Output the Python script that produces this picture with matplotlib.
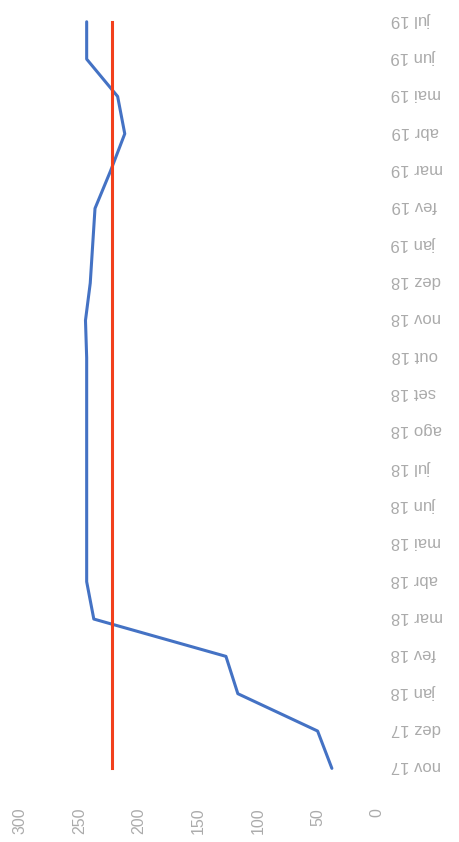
import matplotlib
matplotlib.use("Agg")
import matplotlib.pyplot as plt
from matplotlib.transforms import ScaledTranslation

# categories, bottom (first) to top (last)
meses = ["nov 17", "dez 17", "jan 18", "fev 18", "mar 18", "abr 18", "mai 18",
         "jun 18", "jul 18", "ago 18", "set 18", "out 18", "nov 18", "dez 18",
         "jan 19", "fev 19", "mar 19", "abr 19", "mai 19", "jun 19", "jul 19"]
valores = [38, 50, 117, 127, 238, 244, 244, 244, 244, 244, 244, 244, 245, 241,
           239, 237, 224, 212, 218, 244, 244]
meta = [223] * len(meses)
ticks_valor = [0, 50, 100, 150, 200, 250, 300]

fig = plt.figure(figsize=(4.59, 8.42), dpi=100)
ax = fig.add_axes([0.0436, 0.0653, 0.778, 0.931])

pos = list(range(len(meses)))
ax.plot(valores, pos, color="#4472C4", lw=2.2, solid_capstyle="round")
ax.plot(meta, pos, color="#F2401C", lw=2.2)

ax.set_xlim(300, 0)
ax.set_ylim(-0.5, len(meses) - 0.5)

ax.yaxis.tick_right()
ax.set_yticks(pos)
ax.set_yticklabels(meses, rotation=180, fontsize=12, color="#ababab",
                   family="Liberation Sans")
ax.tick_params(axis="y", length=0, pad=10)
# nudge category labels up a little
off = ScaledTranslation(0, 0.04, fig.dpi_scale_trans)
for lab in ax.get_yticklabels():
    lab.set_transform(lab.get_transform() + off)

ax.set_xticks(ticks_valor)
ax.set_xticklabels([str(v) for v in ticks_valor], rotation=90, fontsize=11.5,
                   color="#ababab", family="Liberation Sans")
ax.tick_params(axis="x", length=0, pad=15)

for s in ax.spines.values():
    s.set_visible(False)

fig.savefig("out.png", dpi=100)
